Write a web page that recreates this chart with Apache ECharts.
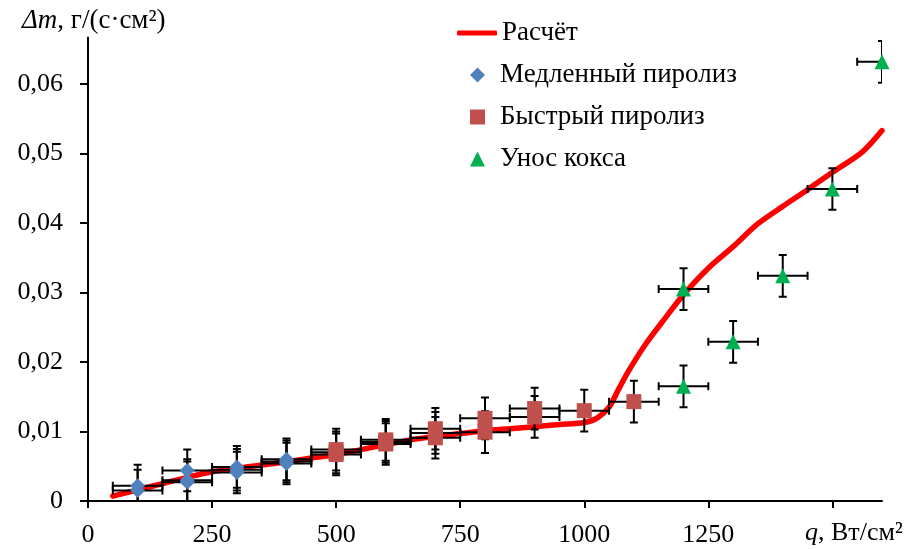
<!DOCTYPE html>
<html>
<head>
<meta charset="utf-8">
<script src="https://cdn.jsdelivr.net/npm/echarts@6/dist/echarts.min.js"></script>
<style>
  html, body { margin: 0; padding: 0; background: #fff; }
  #chart { width: 916px; height: 549px; }
</style>
</head>
<body>
<div id="chart"></div>
<script>
// Calculated mass-loss rate curve
const curveQ = [50, 100, 150, 200, 250, 300, 350, 400, 450, 500, 550, 600, 650, 700, 750, 800, 850, 900, 950, 1000,
  1025, 1050, 1070, 1090, 1125, 1165, 1200, 1250, 1300, 1350, 1400, 1450, 1500, 1560, 1600];
const curveV = [0.0007, 0.0016, 0.0025, 0.0034, 0.0042, 0.0047, 0.0052, 0.0056, 0.0062, 0.0067, 0.0074, 0.0081, 0.0088, 0.0093, 0.0097, 0.0101, 0.0104, 0.0107, 0.0110, 0.0113,
  0.0119, 0.0135, 0.0162, 0.0188, 0.0227, 0.0265, 0.0297, 0.0335, 0.0366, 0.0399, 0.0424, 0.0448, 0.0473, 0.0502, 0.0533];

// Slow pyrolysis measurements
const slowQ = [100, 100, 200, 200, 200, 300, 300, 300, 400, 400, 400];
const slowV = [0.0022, 0.0015, 0.0044, 0.0030, 0.0027, 0.0049, 0.0045, 0.0041, 0.0060, 0.0057, 0.0054];

// Fast pyrolysis measurements
const fastQ = [500, 500, 500, 600, 600, 600, 700, 700, 700, 800, 800, 900, 900, 1000, 1100];
const fastV = [0.0074, 0.0070, 0.0067, 0.0088, 0.0085, 0.0082, 0.0104, 0.0098, 0.0091, 0.0119, 0.0099, 0.0133, 0.0121, 0.0130, 0.0143];

// Char removal measurements
const cokeQ = [1200, 1200, 1300, 1400, 1500, 1600];
const cokeV = [0.0165, 0.0305, 0.0229, 0.0324, 0.0449, 0.0632];

// Measurement uncertainty (same for every point)
const qErr = 50;
const mErr = 0.003;

// Axis ticks
const xTicks = [0, 250, 500, 750, 1000, 1250, 1500];
const xLabels = [0, 250, 500, 750, 1000, 1250];
const yTicks = [0, 0.01, 0.02, 0.03, 0.04, 0.05, 0.06];

const names = ['Расчёт', 'Медленный пиролиз', 'Быстрый пиролиз', 'Унос кокса'];
const FONT = "'Liberation Serif', 'Times New Roman', serif";

const zip = (a, b) => a.map((v, i) => [v, b[i]]);

function errorBars(params, api) {
  const q = api.value(0), m = api.value(1);
  const l = api.coord([q - qErr, m]);
  const r = api.coord([q + qErr, m]);
  const t = api.coord([q, m + mErr]);
  const b = api.coord([q, m - mErr]);
  const c = 4;
  const st = { stroke: '#000', lineWidth: 2, fill: null };
  const seg = (x1, y1, x2, y2) => ({ type: 'line', shape: { x1, y1, x2, y2 }, style: st });
  return {
    type: 'group',
    children: [
      seg(l[0], l[1], r[0], r[1]),
      seg(l[0], l[1] - c, l[0], l[1] + c),
      seg(r[0], r[1] - c, r[0], r[1] + c),
      seg(t[0], t[1], b[0], b[1]),
      seg(t[0] - c, t[1], t[0] + c, t[1]),
      seg(b[0] - c, b[1], b[0] + c, b[1])
    ]
  };
}

const errSeries = (id, q, v) => ({
  type: 'custom',
  id: id,
  renderItem: errorBars,
  data: zip(q, v),
  encode: { x: 0, y: 1 },
  clip: true,
  silent: true,
  z: 3
});

const legendText = { fontFamily: FONT, fontSize: 27, color: '#000', lineHeight: 28 };

const chart = echarts.init(document.getElementById('chart'), null, { renderer: 'canvas' });

chart.setOption({
  animation: false,
  backgroundColor: '#fff',
  textStyle: { fontFamily: FONT },
  grid: { left: 88, right: 34, top: 37.5, bottom: 48 },
  legend: [
    {
      data: [{ name: names[0], icon: 'roundRect' }],
      orient: 'vertical',
      left: 457,
      top: 19,
      padding: 0,
      itemWidth: 40,
      itemHeight: 5,
      selectedMode: false,
      textStyle: legendText
    },
    {
      data: names.slice(1),
      orient: 'vertical',
      left: 470,
      top: 61,
      padding: 0,
      itemWidth: 15,
      itemHeight: 15,
      itemGap: 14,
      selectedMode: false,
      textStyle: Object.assign({ padding: [0, 0, 0, 10] }, legendText)
    }
  ],
  xAxis: {
    type: 'value',
    min: 0,
    max: 1600,
    interval: 250,
    splitLine: { show: false },
    axisLine: { lineStyle: { color: '#000', width: 2 } },
    axisTick: { show: true, length: 7, inside: false, lineStyle: { color: '#000', width: 2 }, customValues: xTicks },
    axisLabel: {
      customValues: xLabels,
      margin: 21,
      color: '#000',
      fontFamily: FONT,
      fontSize: 26,
      formatter: v => String(v)
    }
  },
  yAxis: {
    type: 'value',
    min: 0,
    max: 0.0667,
    interval: 0.01,
    splitLine: { show: false },
    axisLine: { lineStyle: { color: '#000', width: 2 } },
    axisTick: { show: true, length: 8, inside: false, lineStyle: { color: '#000', width: 2 }, customValues: yTicks },
    axisLabel: {
      customValues: yTicks,
      margin: 25,
      color: '#000',
      fontFamily: FONT,
      fontSize: 26,
      formatter: v => (v === 0 ? '0' : v.toFixed(2).replace('.', ','))
    }
  },
  graphic: [
    {
      type: 'text',
      left: 22,
      top: 7,
      style: {
        text: '{i|Δm}, г/(с·см²)',
        font: '27px ' + FONT,
        fill: '#000',
        rich: { i: { fontStyle: 'italic', fontFamily: FONT, fontSize: 27 } }
      }
    },
    {
      type: 'text',
      left: 805,
      top: 520,
      style: {
        text: '{i|q}, Вт/см²',
        font: '26px ' + FONT,
        fill: '#000',
        rich: { i: { fontStyle: 'italic', fontFamily: FONT, fontSize: 26 } }
      }
    }
  ],
  series: [
    {
      name: names[0],
      type: 'line',
      data: zip(curveQ, curveV),
      symbol: 'none',
      smooth: 0.3,
      lineStyle: { color: '#ff0000', width: 5.5, cap: 'round' },
      itemStyle: { color: '#ff0000' },
      z: 2
    },
    errSeries('errSlow', slowQ, slowV),
    errSeries('errFast', fastQ, fastV),
    errSeries('errCoke', cokeQ, cokeV),
    {
      name: names[1],
      type: 'scatter',
      data: zip(slowQ, slowV),
      symbol: 'diamond',
      symbolSize: 15,
      itemStyle: { color: '#4f81bd', opacity: 1 },
      z: 4
    },
    {
      name: names[2],
      type: 'scatter',
      data: zip(fastQ, fastV),
      symbol: 'rect',
      symbolSize: 15,
      itemStyle: { color: '#c0504d', opacity: 1 },
      z: 4
    },
    {
      name: names[3],
      type: 'scatter',
      data: zip(cokeQ, cokeV),
      symbol: 'triangle',
      symbolSize: 15,
      itemStyle: { color: '#00b050', opacity: 1 },
      z: 4
    }
  ]
});
</script>
</body>
</html>
